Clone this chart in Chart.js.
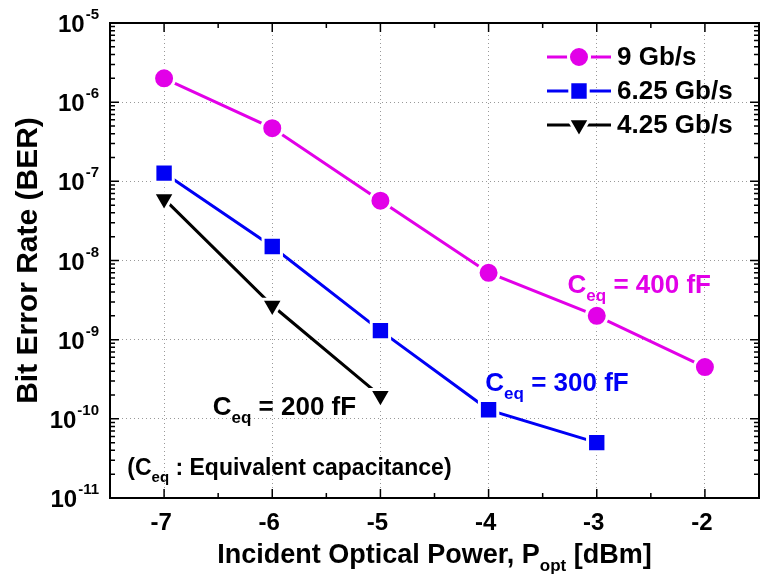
<!DOCTYPE html>
<html>
<head>
<meta charset="utf-8">
<script src="https://cdn.jsdelivr.net/npm/chart.js@4.4.0/dist/chart.umd.min.js"></script>
<style>
  html, body { margin: 0; padding: 0; background: #fff; overflow: hidden; }
  #wrap { width: 760px; height: 578px; }
</style>
</head>
<body>
<div id="wrap"><canvas id="ber"></canvas></div>
<script>
// values
var powers = [-7, -6, -5, -4, -3, -2];
var ber9 = [2.0e-6, 4.7e-7, 5.7e-8, 7.0e-9, 2.0e-9, 4.5e-10];
var ber625 = [1.27e-7, 1.5e-8, 1.3e-9, 1.3e-10, 5.0e-11];
var ber425 = [6.0e-8, 2.7e-9, 1.95e-10];
var seriesNames = ['9 Gb/s', '6.25 Gb/s', '4.25 Gb/s'];
var xTicks = [-7, -6, -5, -4, -3, -2];
var yExps = [-11, -10, -9, -8, -7, -6, -5];

var FONT = '"Liberation Sans", Arial, sans-serif';
var MAGENTA = 'rgb(226, 0, 232)';
var BLUE = 'rgb(0, 0, 245)';
var BLACK = '#000';

function makeSet(label, values, color, style, radius, rot) {
    return {
        label: label,
        data: values.map((v, i) => ({ x: powers[i], y: v })),
        borderColor: color,
        backgroundColor: color,
        borderWidth: 3,
        pointStyle: style,
        pointRadius: radius,
        pointRotation: rot,
        pointBackgroundColor: color,
        pointBorderColor: '#fff',
        pointBorderWidth: 3,
        tension: 0
    };
}

var datasets = [
    makeSet(seriesNames[0], ber9, MAGENTA, 'circle', 10.5, 0),
    makeSet(seriesNames[1], ber625, BLUE, 'rect', 13, 0),
    makeSet(seriesNames[2], ber425, BLACK, 'triangle', 12.5, 180)
];

// text with a subscript part: parts = [[text, size, dy], ...]
function drawParts(ctx, parts, x, y, align) {
    let total = 0;
    parts.forEach(p => { ctx.font = 'bold ' + p[1] + 'px ' + FONT; total += ctx.measureText(p[0]).width; });
    let cx = align === 'center' ? x - total / 2 : x;
    ctx.textAlign = 'left';
    parts.forEach(p => {
        ctx.font = 'bold ' + p[1] + 'px ' + FONT;
        ctx.fillText(p[0], cx, y + p[2]);
        cx += ctx.measureText(p[0]).width;
    });
}

var decor = {
    id: 'decor',
    afterDatasetsDraw(chart) {
        let ctx = chart.ctx, a = chart.chartArea;
        let xs = chart.scales.x, ys = chart.scales.y;
        ctx.save();
        ctx.strokeStyle = '#000';
        ctx.fillStyle = '#000';

        // frame
        ctx.lineWidth = 2;
        ctx.strokeRect(a.left, a.top, a.right - a.left, a.bottom - a.top);

        // ticks, inward on all four sides
        ctx.lineWidth = 1.5;
        ctx.beginPath();
        for (let v = -7.5; v <= -1.5; v += 0.5) {
            let px = xs.getPixelForValue(v);
            let len = Number.isInteger(v) ? 9 : 5;
            ctx.moveTo(px, a.bottom); ctx.lineTo(px, a.bottom - len);
            ctx.moveTo(px, a.top); ctx.lineTo(px, a.top + len);
        }
        for (let e = -11; e < -5; e++) {
            for (let k = 1; k < 10; k++) {
                let py = ys.getPixelForValue(k * Math.pow(10, e));
                let len = k === 1 ? 9 : 5;
                ctx.moveTo(a.left, py); ctx.lineTo(a.left + len, py);
                ctx.moveTo(a.right, py); ctx.lineTo(a.right - len, py);
            }
        }
        ctx.stroke();

        // y tick labels 10^n
        ctx.textBaseline = 'alphabetic';
        yExps.forEach(e => {
            let py = ys.getPixelForValue(Math.pow(10, e));
            ctx.font = 'bold 15px ' + FONT;
            ctx.textAlign = 'right';
            let sup = String(e);
            let sw = ctx.measureText(sup).width;
            ctx.fillText(sup, 99, py - 4);
            ctx.font = 'bold 24px ' + FONT;
            ctx.fillText('10', 99 - sw - 1, py + 9);
        });

        // x tick labels
        ctx.font = 'bold 24px ' + FONT;
        ctx.textAlign = 'center';
        ctx.textBaseline = 'middle';
        xTicks.forEach(v => {
            ctx.fillText(String(v), xs.getPixelForValue(v) - 3, a.bottom + 25);
        });

        // axis titles
        ctx.textBaseline = 'alphabetic';
        drawParts(ctx, [['Incident Optical Power, P', 27, 0], ['opt', 17, 8], [' [dBm]', 27, 0]],
            (a.left + a.right) / 2, 563, 'center');
        ctx.save();
        ctx.translate(37, (a.top + a.bottom) / 2);
        ctx.rotate(-Math.PI / 2);
        ctx.font = 'bold 30px ' + FONT;
        ctx.textAlign = 'center';
        ctx.fillText('Bit Error Rate (BER)', 0, 0);
        ctx.restore();

        // annotations, anchored in data coordinates
        let at = (x, y) => [xs.getPixelForValue(x), ys.getPixelForValue(y)];
        let p;
        ctx.fillStyle = MAGENTA;
        p = at(-3.27, 5.1e-9);
        drawParts(ctx, [['C', 26, 0], ['eq', 17, 8], [' = 400 fF', 26, 0]], p[0], p[1] + 9, 'left');
        ctx.fillStyle = BLUE;
        p = at(-4.03, 2.95e-10);
        drawParts(ctx, [['C', 26, 0], ['eq', 17, 8], [' = 300 fF', 26, 0]], p[0], p[1] + 9, 'left');
        ctx.fillStyle = BLACK;
        p = at(-6.55, 1.45e-10);
        drawParts(ctx, [['C', 26, 0], ['eq', 17, 8], [' = 200 fF', 26, 0]], p[0], p[1] + 9, 'left');
        p = at(-7.34, 2.45e-11);
        drawParts(ctx, [['(C', 23, 0], ['eq', 15, 7], [' : Equivalent capacitance)', 23, 0]], p[0], p[1] + 8, 'left');

        // legend
        chart.data.datasets.forEach((ds, i) => {
            let ly = 57 + i * 34;
            ctx.strokeStyle = ds.borderColor;
            ctx.lineWidth = 3;
            ctx.beginPath();
            ctx.moveTo(547, ly); ctx.lineTo(611, ly);
            ctx.stroke();
            ctx.fillStyle = ds.pointBackgroundColor;
            ctx.strokeStyle = '#fff';
            ctx.lineWidth = 3;
            Chart.helpers.drawPoint(ctx, {
                pointStyle: ds.pointStyle, rotation: ds.pointRotation,
                radius: ds.pointRadius, borderWidth: 3
            }, 579, ly);
            ctx.fillStyle = '#000';
            ctx.font = 'bold 26px ' + FONT;
            ctx.textAlign = 'left';
            ctx.textBaseline = 'middle';
            ctx.fillText(ds.label, 617, ly + 1);
        });
        ctx.restore();
    }
};

new Chart('ber', {
    type: 'line',
    data: { datasets: datasets },
    options: {
        responsive: true,
        maintainAspectRatio: false,
        animation: false,
        layout: { autoPadding: false, padding: { top: 23, right: 1, left: 0, bottom: 0 } },
        plugins: { legend: { display: false }, tooltip: { enabled: false } },
        scales: {
            x: {
                type: 'linear', min: -7.5, max: -1.5,
                afterBuildTicks: s => { s.ticks = xTicks.map(v => ({ value: v })); },
                afterFit: s => { s.height = 80; },
                ticks: { display: false },
                grid: { color: '#999', lineWidth: 1, drawTicks: false },
                border: { display: false, dash: [1, 3] }
            },
            y: {
                type: 'logarithmic', min: 1e-11, max: 1e-5,
                afterBuildTicks: s => { s.ticks = yExps.map(e => ({ value: Math.pow(10, e) })); },
                afterFit: s => { s.width = 110; },
                ticks: { display: false },
                grid: { color: '#999', lineWidth: 1, drawTicks: false },
                border: { display: false, dash: [1, 3] }
            }
        }
    },
    plugins: [decor]
});
</script>
</body>
</html>
